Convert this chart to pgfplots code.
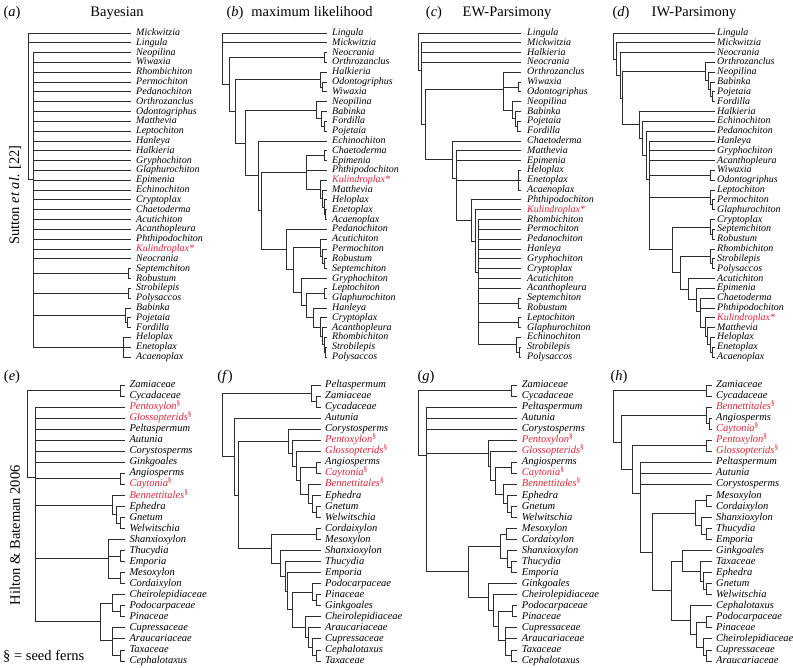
\documentclass[border=0pt]{standalone}
\usepackage{fontspec}
\setmainfont{Liberation Serif}
\usepackage{pgfplots}
\pgfplotsset{compat=1.18}
\definecolor{tred}{RGB}{226,35,52}
\definecolor{brc}{RGB}{45,45,45}
\tikzset{tax/.style={anchor=base west, inner sep=0pt, yshift=-2.5pt, font=\fontsize{10}{12}\selectfont\itshape},
 ttl/.style={anchor=base, inner sep=0pt, font=\fontsize{14.5}{16}\selectfont}}
\pgfplotsset{br/.style={brc, line width=0.9pt, mark=none, line join=miter}}
\newcommand{\tx}[3]{\node[tax] at (axis cs:#1,#2) {#3};}
\newcommand{\rd}[1]{\textcolor{tred}{#1}}
\newcommand{\sfr}[1]{\textcolor{tred}{#1\textsuperscript{\upshape\S}}}
\begin{document}
\begin{tikzpicture}
\useasboundingbox (0,0) rectangle (793pt,-668pt);
% ================= TOP ROW =================
\begin{axis}[at={(0pt,0pt)}, anchor=north west, scale only axis, width=793pt, height=365pt,
 xmin=0, xmax=793, ymin=-2.3605, ymax=34.808, y dir=reverse, hide axis, clip=false, unbounded coords=jump]
% ---- titles
\node[ttl] at (axis cs:12,-0.68) {(\textit{a})};
\node[ttl] at (axis cs:117,-0.68) {Bayesian};
\node[ttl] at (axis cs:235,-0.68) {(\textit{b})};
\node[ttl] at (axis cs:312,-0.68) {maximum likelihood};
\node[ttl] at (axis cs:434,-0.68) {(\textit{c})};
\node[ttl] at (axis cs:507,-0.68) {EW-Parsimony};
\node[ttl] at (axis cs:621,-0.68) {(\textit{d})};
\node[ttl] at (axis cs:694,-0.68) {IW-Parsimony};
\node[rotate=90, inner sep=0pt, font=\fontsize{14.5}{16}\selectfont] at (axis cs:15,17.5) {Sutton \textit{et al.} [22]};
% ---- panel a
\addplot[br] coordinates {(131,1)(28,1)(28,15.875)(33,15.875) (nan,nan)(28,2)(131,2)};
\addplot[br] coordinates {(131,3)(33,3)(33,33)(123,33)
 (nan,nan)(33,4)(131,4) (nan,nan)(33,5)(131,5) (nan,nan)(33,6)(131,6) (nan,nan)(33,7)(131,7)
 (nan,nan)(33,8)(131,8) (nan,nan)(33,9)(131,9) (nan,nan)(33,10)(131,10) (nan,nan)(33,11)(131,11)
 (nan,nan)(33,12)(131,12) (nan,nan)(33,13)(131,13) (nan,nan)(33,14)(131,14) (nan,nan)(33,15)(131,15)
 (nan,nan)(33,16)(131,16) (nan,nan)(33,17)(131,17) (nan,nan)(33,18)(131,18) (nan,nan)(33,19)(131,19)
 (nan,nan)(33,20)(131,20) (nan,nan)(33,21)(131,21) (nan,nan)(33,22)(131,22) (nan,nan)(33,23)(131,23)
 (nan,nan)(33,24)(131,24) (nan,nan)(33,25.5)(128,25.5) (nan,nan)(33,27.5)(128,27.5) (nan,nan)(33,29.75)(125,29.75)};
\addplot[br] coordinates {(131,25)(128,25)(128,26)(131,26)};
\addplot[br] coordinates {(131,27)(128,27)(128,28)(131,28)};
\addplot[br] coordinates {(131,29)(125,29)(125,30.5)(127.5,30.5)};
\addplot[br] coordinates {(131,30)(127.5,30)(127.5,31)(131,31)};
\addplot[br] coordinates {(131,32)(123,32)(123,34)(131,34) (nan,nan)(123,33)(131,33)};
\tx{136}{1}{Mickwitzia}\tx{136}{2}{Lingula}\tx{136}{3}{Neopilina}\tx{136}{4}{Wiwaxia}
\tx{136}{5}{Rhombichiton}\tx{136}{6}{Permochiton}\tx{136}{7}{Pedanochiton}\tx{136}{8}{Orthrozanclus}
\tx{136}{9}{Odontogriphus}\tx{136}{10}{Matthevia}\tx{136}{11}{Leptochiton}\tx{136}{12}{Hanleya}
\tx{136}{13}{Halkieria}\tx{136}{14}{Gryphochiton}\tx{136}{15}{Glaphurochiton}\tx{136}{16}{Epimenia}
\tx{136}{17}{Echinochiton}\tx{136}{18}{Cryptoplax}\tx{136}{19}{Chaetoderma}\tx{136}{20}{Acutichiton}
\tx{136}{21}{Acanthopleura}\tx{136}{22}{Phthipodochiton}\tx{136}{23}{\rd{Kulindroplax*}}\tx{136}{24}{Neocrania}
\tx{136}{25}{Septemchiton}\tx{136}{26}{Robustum}\tx{136}{27}{Strobilepis}\tx{136}{28}{Polysaccos}
\tx{136}{29}{Babinka}\tx{136}{30}{Pojetaia}\tx{136}{31}{Fordilla}\tx{136}{32}{Heloplax}
\tx{136}{33}{Enetoplax}\tx{136}{34}{Acaenoplax}
% ---- panel b
\addplot[br] coordinates {(327,1)(222.7,1)(222.7,6.24)(229.3,6.24) (nan,nan)(222.7,2)(327,2)};
\addplot[br] coordinates {(324,3.5)(229.3,3.5)(229.3,8.98)(235,8.98)};
\addplot[br] coordinates {(327,3)(324,3)(324,4)(327,4)};
\addplot[br] coordinates {(320,5.75)(235,5.75)(235,12.2)(245,12.2)};
\addplot[br] coordinates {(327,5)(320,5)(320,6.5)(322.7,6.5)};
\addplot[br] coordinates {(327,6)(322.7,6)(322.7,7)(327,7)};
\addplot[br] coordinates {(316.7,8.875)(245,8.875)(245,15.55)(258.3,15.55)};
\addplot[br] coordinates {(327,8)(316.7,8)(316.7,9.75)(321.7,9.75)};
\addplot[br] coordinates {(327,9)(321.7,9)(321.7,10.5)(324,10.5)};
\addplot[br] coordinates {(327,10)(324,10)(324,11)(327,11)};
\addplot[br] coordinates {(327,12)(258.3,12)(258.3,19.1)(261,19.1)};
\addplot[br] coordinates {(306,15.15)(261,15.15)(261,23.06)(286,23.06)};
\addplot[br] coordinates {(324,13.5)(306,13.5)(306,16.94)(320.7,16.94) (nan,nan)(306,15)(327,15)};
\addplot[br] coordinates {(327,13)(324,13)(324,14)(327,14)};
\addplot[br] coordinates {(327,16)(320.7,16)(320.7,17.875)(322.7,17.875)};
\addplot[br] coordinates {(327,17)(322.7,17)(322.7,18.75)(324,18.75)};
\addplot[br] coordinates {(327,18)(324,18)(324,19.5)(325.5,19.5)};
\addplot[br] coordinates {(327,19)(325.5,19)(325.5,20)(327,20)};
\addplot[br] coordinates {(327,21)(286,21)(286,25.12)(293,25.12)};
\addplot[br] coordinates {(320.7,22.875)(293,22.875)(293,27.37)(301,27.37)};
\addplot[br] coordinates {(327,22)(320.7,22)(320.7,23.75)(322.7,23.75)};
\addplot[br] coordinates {(327,23)(322.7,23)(322.7,24.5)(324.7,24.5)};
\addplot[br] coordinates {(327,24)(324.7,24)(324.7,25)(327,25)};
\addplot[br] coordinates {(327,26)(301,26)(301,28.73)(306.7,28.73)};
\addplot[br] coordinates {(324,27.5)(306.7,27.5)(306.7,29.97)(313,29.97)};
\addplot[br] coordinates {(327,27)(324,27)(324,28)(327,28)};
\addplot[br] coordinates {(327,29)(313,29)(313,30.94)(320.7,30.94)};
\addplot[br] coordinates {(327,30)(320.7,30)(320.7,31.875)(322.7,31.875)};
\addplot[br] coordinates {(327,31)(322.7,31)(322.7,32.75)(324,32.75)};
\addplot[br] coordinates {(327,32)(324,32)(324,33.5)(325.5,33.5)};
\addplot[br] coordinates {(327,33)(325.5,33)(325.5,34)(327,34)};
\tx{332}{1}{Lingula}\tx{332}{2}{Mickwitzia}\tx{332}{3}{Neocrania}\tx{332}{4}{Orthrozanclus}
\tx{332}{5}{Halkieria}\tx{332}{6}{Odontogriphus}\tx{332}{7}{Wiwaxia}\tx{332}{8}{Neopilina}
\tx{332}{9}{Babinka}\tx{332}{10}{Fordilla}\tx{332}{11}{Pojetaia}\tx{332}{12}{Echinochiton}
\tx{332}{13}{Chaetoderma}\tx{332}{14}{Epimenia}\tx{332}{15}{Phthipodochiton}\tx{332}{16}{\rd{Kulindroplax*}}
\tx{332}{17}{Matthevia}\tx{332}{18}{Heloplax}\tx{332}{19}{Enetoplax}\tx{332}{20}{Acaenoplax}
\tx{332}{21}{Pedanochiton}\tx{332}{22}{Acutichiton}\tx{332}{23}{Permochiton}\tx{332}{24}{Robustum}
\tx{332}{25}{Septemchiton}\tx{332}{26}{Gryphochiton}\tx{332}{27}{Leptochiton}\tx{332}{28}{Glaphurochiton}
\tx{332}{29}{Hanleya}\tx{332}{30}{Cryptoplax}\tx{332}{31}{Acanthopleura}\tx{332}{32}{Rhombichiton}
\tx{332}{33}{Strobilepis}\tx{332}{34}{Polysaccos}
% ---- panel c
\addplot[br] coordinates {(521,1)(418.3,1)(418.3,4.835)(421.7,4.835)};
\addplot[br] coordinates {(521,2)(421.7,2)(421.7,10.34)(425,10.34) (nan,nan)(421.7,3)(521,3) (nan,nan)(421.7,4)(521,4)};
\addplot[br] coordinates {(503.3,6.79)(425,6.79)(425,13.89)(452.7,13.89)};
\addplot[br] coordinates {(521,5)(503.3,5)(503.3,8.875)(512.7,8.875) (nan,nan)(503.3,6.5)(518.3,6.5)};
\addplot[br] coordinates {(521,6)(518.3,6)(518.3,7)(521,7)};
\addplot[br] coordinates {(521,8)(512.7,8)(512.7,9.75)(515,9.75)};
\addplot[br] coordinates {(521,9)(515,9)(515,10.5)(517.3,10.5)};
\addplot[br] coordinates {(521,10)(517.3,10)(517.3,11)(521,11)};
\addplot[br] coordinates {(521,12)(452.7,12)(452.7,15.78)(456.7,15.78)};
\addplot[br] coordinates {(521,13)(456.7,13)(456.7,20.1)(471.7,20.1) (nan,nan)(456.7,14)(521,14) (nan,nan)(456.7,16)(518.3,16)};
\addplot[br] coordinates {(521,15)(518.3,15)(518.3,17)(521,17) (nan,nan)(518.3,16)(521,16)};
\addplot[br] coordinates {(521,18)(471.7,18)(471.7,22.2)(475,22.2)};
\addplot[br] coordinates {(521,19)(475,19)(475,25.43)(478.3,25.43)};
\addplot[br] coordinates {(521,20)(478.3,20)(478.3,32.75)(516.7,32.75)
 (nan,nan)(478.3,21)(521,21) (nan,nan)(478.3,22)(521,22) (nan,nan)(478.3,23)(521,23) (nan,nan)(478.3,24)(521,24)
 (nan,nan)(478.3,25)(521,25) (nan,nan)(478.3,26)(521,26) (nan,nan)(478.3,27)(521,27)
 (nan,nan)(478.3,28.5)(518.3,28.5) (nan,nan)(478.3,30.5)(518.3,30.5)};
\addplot[br] coordinates {(521,28)(518.3,28)(518.3,29)(521,29)};
\addplot[br] coordinates {(521,30)(518.3,30)(518.3,31)(521,31)};
\addplot[br] coordinates {(521,32)(516.7,32)(516.7,33.5)(519,33.5)};
\addplot[br] coordinates {(521,33)(519,33)(519,34)(521,34)};
\tx{527}{1}{Lingula}\tx{527}{2}{Mickwitzia}\tx{527}{3}{Halkieria}\tx{527}{4}{Neocrania}
\tx{527}{5}{Orthrozanclus}\tx{527}{6}{Wiwaxia}\tx{527}{7}{Odontogriphus}\tx{527}{8}{Neopilina}
\tx{527}{9}{Babinka}\tx{527}{10}{Pojetaia}\tx{527}{11}{Fordilla}\tx{527}{12}{Chaetoderma}
\tx{527}{13}{Matthevia}\tx{527}{14}{Epimenia}\tx{527}{15}{Heloplax}\tx{527}{16}{Enetoplax}
\tx{527}{17}{Acaenoplax}\tx{527}{18}{Phthipodochiton}\tx{527}{19}{\rd{Kulindroplax*}}\tx{527}{20}{Rhombichiton}
\tx{527}{21}{Permochiton}\tx{527}{22}{Pedanochiton}\tx{527}{23}{Hanleya}\tx{527}{24}{Gryphochiton}
\tx{527}{25}{Cryptoplax}\tx{527}{26}{Acutichiton}\tx{527}{27}{Acanthopleura}\tx{527}{28}{Septemchiton}
\tx{527}{29}{Robustum}\tx{527}{30}{Leptochiton}\tx{527}{31}{Glaphurochiton}\tx{527}{32}{Echinochiton}
\tx{527}{33}{Strobilepis}\tx{527}{34}{Polysaccos}
% ---- panel d
\addplot[br] coordinates {(714.5,1)(613.3,1)(613.3,3.66)(616.7,3.66)};
\addplot[br] coordinates {(714.5,2)(616.7,2)(616.7,5.32)(620,5.32)};
\addplot[br] coordinates {(714.5,3)(620,3)(620,7.65)(622.7,7.65)};
\addplot[br] coordinates {(705,4.94)(622.7,4.94)(622.7,10.36)(639.3,10.36)};
\addplot[br] coordinates {(714.5,4)(705,4)(705,5.875)(708.3,5.875)};
\addplot[br] coordinates {(714.5,5)(708.3,5)(708.3,6.75)(710.7,6.75)};
\addplot[br] coordinates {(714.5,6)(710.7,6)(710.7,7.5)(712.7,7.5)};
\addplot[br] coordinates {(714.5,7)(712.7,7)(712.7,8)(714.5,8)};
\addplot[br] coordinates {(714.5,9)(639.3,9)(639.3,11.72)(642.7,11.72)};
\addplot[br] coordinates {(714.5,10)(642.7,10)(642.7,13.44)(646,13.44)};
\addplot[br] coordinates {(714.5,11)(646,11)(646,15.89)(649.3,15.89)};
\addplot[br] coordinates {(714.5,12)(649.3,12)(649.3,23.08)(672.7,23.08) (nan,nan)(649.3,13)(714.5,13) (nan,nan)(649.3,14)(714.5,14) (nan,nan)(649.3,15.5)(710,15.5) (nan,nan)(649.3,17.75)(710,17.75)};
\addplot[br] coordinates {(714.5,15)(710,15)(710,16)(714.5,16)};
\addplot[br] coordinates {(714.5,17)(710,17)(710,18.5)(712.3,18.5)};
\addplot[br] coordinates {(714.5,18)(712.3,18)(712.3,19)(714.5,19)};
\addplot[br] coordinates {(710,20.75)(672.7,20.75)(672.7,25.41)(680,25.41)};
\addplot[br] coordinates {(714.5,20)(710,20)(710,21.5)(712.3,21.5)};
\addplot[br] coordinates {(714.5,21)(712.3,21)(712.3,22)(714.5,22)};
\addplot[br] coordinates {(710,23.75)(680,23.75)(680,27.08)(688.3,27.08)};
\addplot[br] coordinates {(714.5,23)(710,23)(710,24.5)(712.3,24.5)};
\addplot[br] coordinates {(714.5,24)(712.3,24)(712.3,25)(714.5,25)};
\addplot[br] coordinates {(714.5,26)(688.3,26)(688.3,28.16)(696.7,28.16)};
\addplot[br] coordinates {(714.5,27)(696.7,27)(696.7,29.31)(700,29.31)};
\addplot[br] coordinates {(714.5,28)(700,28)(700,30.94)(705,30.94) (nan,nan)(700,29)(714.5,29)};
\addplot[br] coordinates {(714.5,30)(705,30)(705,31.875)(707.3,31.875)};
\addplot[br] coordinates {(714.5,31)(707.3,31)(707.3,32.75)(710,32.75)};
\addplot[br] coordinates {(714.5,32)(710,32)(710,33.5)(712.3,33.5)};
\addplot[br] coordinates {(714.5,33)(712.3,33)(712.3,34)(714.5,34)};
\tx{717}{1}{Lingula}\tx{717}{2}{Mickwitzia}\tx{717}{3}{Neocrania}\tx{717}{4}{Orthrozanclus}
\tx{717}{5}{Neopilina}\tx{717}{6}{Babinka}\tx{717}{7}{Pojetaia}\tx{717}{8}{Fordilla}
\tx{717}{9}{Halkieria}\tx{717}{10}{Echinochiton}\tx{717}{11}{Pedanochiton}\tx{717}{12}{Hanleya}
\tx{717}{13}{Gryphochiton}\tx{717}{14}{Acanthopleura}\tx{717}{15}{Wiwaxia}\tx{717}{16}{Odontogriphus}
\tx{717}{17}{Leptochiton}\tx{717}{18}{Permochiton}\tx{717}{19}{Glaphurochiton}\tx{717}{20}{Cryptoplax}
\tx{717}{21}{Septemchiton}\tx{717}{22}{Robustum}\tx{717}{23}{Rhombichiton}\tx{717}{24}{Strobilepis}
\tx{717}{25}{Polysaccos}\tx{717}{26}{Acutichiton}\tx{717}{27}{Epimenia}\tx{717}{28}{Chaetoderma}
\tx{717}{29}{Phthipodochiton}\tx{717}{30}{\rd{Kulindroplax*}}\tx{717}{31}{Matthevia}\tx{717}{32}{Heloplax}
\tx{717}{33}{Enetoplax}\tx{717}{34}{Acaenoplax}
\end{axis}
\tikzset{tax/.style={anchor=base west, inner sep=0pt, yshift=-2.6pt, font=\fontsize{10.5}{12}\selectfont\itshape}}
% ================= BOTTOM ROW =================
\begin{axis}[at={(0pt,-365pt)}, anchor=north west, scale only axis, width=793pt, height=303pt,
 xmin=0, xmax=793, ymin=-0.8116, ymax=26.634, y dir=reverse, hide axis, clip=false, unbounded coords=jump]
\node[ttl] at (axis cs:12,0.547) {(\textit{e})};
\node[ttl] at (axis cs:225,0.547) {(\textit{f})};
\node[ttl] at (axis cs:426,0.547) {(\textit{g})};
\node[ttl] at (axis cs:619,0.547) {(\textit{h})};
\node[rotate=90, inner sep=0pt, font=\fontsize{14.5}{16}\selectfont] at (axis cs:15,14.6) {Hilton \& Bateman 2006};
\node[anchor=base west, inner sep=0pt, font=\fontsize{14.5}{16}\selectfont] at (axis cs:3,25.95) {\S\ = seed ferns};
% ---- panel e
\addplot[br] coordinates {(120.7,1.5)(27.3,1.5)(27.3,9.35)(35,9.35)};
\addplot[br] coordinates {(125,1)(120.7,1)(120.7,2)(125,2)};
\addplot[br] coordinates {(125,3)(35,3)(35,22.46)(100,22.46)
 (nan,nan)(35,4)(125,4) (nan,nan)(35,5)(125,5) (nan,nan)(35,6)(125,6) (nan,nan)(35,7)(125,7) (nan,nan)(35,8)(125,8)
 (nan,nan)(35,9.5)(120.7,9.5) (nan,nan)(35,11.875)(112.7,11.875) (nan,nan)(35,16.67)(108.3,16.67)};
\addplot[br] coordinates {(125,9)(120.7,9)(120.7,10)(125,10)};
\addplot[br] coordinates {(125,11)(112.7,11)(112.7,12.75)(116.7,12.75)};
\addplot[br] coordinates {(125,12)(116.7,12)(116.7,13.5)(120.7,13.5)};
\addplot[br] coordinates {(125,13)(120.7,13)(120.7,14)(125,14)};
\addplot[br] coordinates {(125,15)(108.3,15)(108.3,18.5)(120.7,18.5) (nan,nan)(108.3,16.5)(120.7,16.5)};
\addplot[br] coordinates {(125,16)(120.7,16)(120.7,17)(125,17)};
\addplot[br] coordinates {(125,18)(120.7,18)(120.7,19)(125,19)};
\addplot[br] coordinates {(112.7,20.75)(100,20.75)(100,24.17)(112.7,24.17)};
\addplot[br] coordinates {(125,20)(112.7,20)(112.7,21.5)(120.7,21.5)};
\addplot[br] coordinates {(125,21)(120.7,21)(120.7,22)(125,22)};
\addplot[br] coordinates {(125,23)(112.7,23)(112.7,25.5)(120.7,25.5) (nan,nan)(112.7,24)(125,24)};
\addplot[br] coordinates {(125,25)(120.7,25)(120.7,26)(125,26)};
\tx{129.3}{1}{Zamiaceae}\tx{129.3}{2}{Cycadaceae}\tx{129.3}{3}{\sfr{Pentoxylon}}\tx{129.3}{4}{\sfr{Glossopterids}}
\tx{129.3}{5}{Peltaspermum}\tx{129.3}{6}{Autunia}\tx{129.3}{7}{Corystosperms}\tx{129.3}{8}{Ginkgoales}
\tx{129.3}{9}{Angiosperms}\tx{129.3}{10}{\sfr{Caytonia}}\tx{129.3}{11}{\sfr{Bennettitales}}\tx{129.3}{12}{Ephedra}
\tx{129.3}{13}{Gnetum}\tx{129.3}{14}{Welwitschia}\tx{129.3}{15}{Shanxioxylon}\tx{129.3}{16}{Thucydia}
\tx{129.3}{17}{Emporia}\tx{129.3}{18}{Mesoxylon}\tx{129.3}{19}{Cordaixylon}\tx{129.3}{20}{Cheirolepidiaceae}
\tx{129.3}{21}{Podocarpaceae}\tx{129.3}{22}{Pinaceae}\tx{129.3}{23}{Cupressaceae}\tx{129.3}{24}{Araucariaceae}
\tx{129.3}{25}{Taxaceae}\tx{129.3}{26}{Cephalotaxus}
% ---- panel f
\addplot[br] coordinates {(311.7,1.75)(222.7,1.75)(222.7,7.48)(234,7.48)};
\addplot[br] coordinates {(321,1)(311.7,1)(311.7,2.5)(316,2.5)};
\addplot[br] coordinates {(321,2)(316,2)(316,3)(321,3)};
\addplot[br] coordinates {(321,4)(234,4)(234,10.96)(238.3,10.96)};
\addplot[br] coordinates {(288.3,6.09)(238.3,6.09)(238.3,15.83)(271.7,15.83)};
\addplot[br] coordinates {(321,5)(288.3,5)(288.3,7.17)(292.7,7.17)};
\addplot[br] coordinates {(321,6)(292.7,6)(292.7,8.34)(296.7,8.34)};
\addplot[br] coordinates {(321,7)(296.7,7)(296.7,9.69)(300,9.69)};
\addplot[br] coordinates {(316,8.5)(300,8.5)(300,10.875)(308.3,10.875)};
\addplot[br] coordinates {(321,8)(316,8)(316,9)(321,9)};
\addplot[br] coordinates {(321,10)(308.3,10)(308.3,11.75)(312.7,11.75)};
\addplot[br] coordinates {(321,11)(312.7,11)(312.7,12.5)(316.7,12.5)};
\addplot[br] coordinates {(321,12)(316.7,12)(316.7,13)(321,13)};
\addplot[br] coordinates {(316.7,14.5)(271.7,14.5)(271.7,17.17)(280,17.17)};
\addplot[br] coordinates {(321,14)(316.7,14)(316.7,15)(321,15)};
\addplot[br] coordinates {(321,16)(280,16)(280,18.34)(285,18.34)};
\addplot[br] coordinates {(321,17)(285,17)(285,19.67)(287.3,19.67)};
\addplot[br] coordinates {(321,18)(287.3,18)(287.3,21.34)(292.7,21.34)};
\addplot[br] coordinates {(312.7,19.75)(292.7,19.75)(292.7,22.94)(305,22.94)};
\addplot[br] coordinates {(321,19)(312.7,19)(312.7,20.5)(316.7,20.5)};
\addplot[br] coordinates {(321,20)(316.7,20)(316.7,21)(321,21)};
\addplot[br] coordinates {(321,22)(305,22)(305,23.875)(308.3,23.875)};
\addplot[br] coordinates {(321,23)(308.3,23)(308.3,24.75)(312.7,24.75)};
\addplot[br] coordinates {(321,24)(312.7,24)(312.7,25.5)(316.7,25.5)};
\addplot[br] coordinates {(321,25)(316.7,25)(316.7,26)(321,26)};
\tx{325}{1}{Peltaspermum}\tx{325}{2}{Zamiaceae}\tx{325}{3}{Cycadaceae}\tx{325}{4}{Autunia}
\tx{325}{5}{Corystosperms}\tx{325}{6}{\sfr{Pentoxylon}}\tx{325}{7}{\sfr{Glossopterids}}\tx{325}{8}{Angiosperms}
\tx{325}{9}{\sfr{Caytonia}}\tx{325}{10}{\sfr{Bennettitales}}\tx{325}{11}{Ephedra}\tx{325}{12}{Gnetum}
\tx{325}{13}{Welwitschia}\tx{325}{14}{Cordaixylon}\tx{325}{15}{Mesoxylon}\tx{325}{16}{Shanxioxylon}
\tx{325}{17}{Thucydia}\tx{325}{18}{Emporia}\tx{325}{19}{Podocarpaceae}\tx{325}{20}{Pinaceae}
\tx{325}{21}{Ginkgoales}\tx{325}{22}{Cheirolepidiaceae}\tx{325}{23}{Araucariaceae}\tx{325}{24}{Cupressaceae}
\tx{325}{25}{Cephalotaxus}\tx{325}{26}{Taxaceae}
% ---- panel g
\addplot[br] coordinates {(511.7,1.5)(418.3,1.5)(418.3,7.42)(426,7.42)};
\addplot[br] coordinates {(516.5,1)(511.7,1)(511.7,2)(516.5,2)};
\addplot[br] coordinates {(516.5,3)(426,3)(426,17.92)(468.3,17.92) (nan,nan)(426,4)(516.5,4) (nan,nan)(426,5)(516.5,5) (nan,nan)(426,7.17)(488.3,7.17)};
\addplot[br] coordinates {(516.5,6)(488.3,6)(488.3,8.34)(490.7,8.34)};
\addplot[br] coordinates {(516.5,7)(490.7,7)(490.7,9.69)(495,9.69)};
\addplot[br] coordinates {(511.7,8.5)(495,8.5)(495,10.875)(503.3,10.875)};
\addplot[br] coordinates {(516.5,8)(511.7,8)(511.7,9)(516.5,9)};
\addplot[br] coordinates {(516.5,10)(503.3,10)(503.3,11.75)(507.3,11.75)};
\addplot[br] coordinates {(516.5,11)(507.3,11)(507.3,12.5)(511.7,12.5)};
\addplot[br] coordinates {(516.5,12)(511.7,12)(511.7,13)(516.5,13)};
\addplot[br] coordinates {(500,15.625)(468.3,15.625)(468.3,20.21)(488.3,20.21)};
\addplot[br] coordinates {(506.7,14.5)(500,14.5)(500,16.75)(507.3,16.75)};
\addplot[br] coordinates {(516.5,14)(506.7,14)(506.7,15)(516.5,15)};
\addplot[br] coordinates {(516.5,16)(507.3,16)(507.3,17.5)(511.7,17.5)};
\addplot[br] coordinates {(516.5,17)(511.7,17)(511.7,18)(516.5,18)};
\addplot[br] coordinates {(516.5,19)(488.3,19)(488.3,21.42)(493.3,21.42)};
\addplot[br] coordinates {(516.5,20)(493.3,20)(493.3,22.83)(498.3,22.83)};
\addplot[br] coordinates {(512.7,21.5)(498.3,21.5)(498.3,24.17)(505,24.17)};
\addplot[br] coordinates {(516.5,21)(512.7,21)(512.7,22)(516.5,22)};
\addplot[br] coordinates {(516.5,23)(505,23)(505,25.5)(511.7,25.5) (nan,nan)(505,24)(516.5,24)};
\addplot[br] coordinates {(516.5,25)(511.7,25)(511.7,26)(516.5,26)};
\tx{521.7}{1}{Zamiaceae}\tx{521.7}{2}{Cycadaceae}\tx{521.7}{3}{Peltaspermum}\tx{521.7}{4}{Autunia}
\tx{521.7}{5}{Corystosperms}\tx{521.7}{6}{\sfr{Pentoxylon}}\tx{521.7}{7}{\sfr{Glossopterids}}\tx{521.7}{8}{Angiosperms}
\tx{521.7}{9}{\sfr{Caytonia}}\tx{521.7}{10}{\sfr{Bennettitales}}\tx{521.7}{11}{Ephedra}\tx{521.7}{12}{Gnetum}
\tx{521.7}{13}{Welwitschia}\tx{521.7}{14}{Mesoxylon}\tx{521.7}{15}{Cordaixylon}\tx{521.7}{16}{Shanxioxylon}
\tx{521.7}{17}{Thucydia}\tx{521.7}{18}{Emporia}\tx{521.7}{19}{Ginkgoales}\tx{521.7}{20}{Cheirolepidiaceae}
\tx{521.7}{21}{Podocarpaceae}\tx{521.7}{22}{Pinaceae}\tx{521.7}{23}{Cupressaceae}\tx{521.7}{24}{Araucariaceae}
\tx{521.7}{25}{Taxaceae}\tx{521.7}{26}{Cephalotaxus}
% ---- panel h
\addplot[br] coordinates {(706.7,1.5)(613.3,1.5)(613.3,6.2)(621.7,6.2)};
\addplot[br] coordinates {(711.7,1)(706.7,1)(706.7,2)(711.7,2)};
\addplot[br] coordinates {(706,3.75)(621.7,3.75)(621.7,8.64)(632.7,8.64)};
\addplot[br] coordinates {(711.7,3)(706,3)(706,4.5)(709.3,4.5)};
\addplot[br] coordinates {(711.7,4)(709.3,4)(709.3,5)(711.7,5)};
\addplot[br] coordinates {(706.7,6.5)(632.7,6.5)(632.7,10.78)(640.7,10.78)};
\addplot[br] coordinates {(711.7,6)(706.7,6)(706.7,7)(711.7,7)};
\addplot[br] coordinates {(711.7,8)(640.7,8)(640.7,16.13)(652.7,16.13) (nan,nan)(640.7,9)(711.7,9) (nan,nan)(640.7,10)(711.7,10)};
\addplot[br] coordinates {(695,12.625)(652.7,12.625)(652.7,19.63)(671.7,19.63)};
\addplot[br] coordinates {(706.7,11.5)(695,11.5)(695,13.75)(701.7,13.75)};
\addplot[br] coordinates {(711.7,11)(706.7,11)(706.7,12)(711.7,12)};
\addplot[br] coordinates {(711.7,13)(701.7,13)(701.7,14.5)(706.7,14.5)};
\addplot[br] coordinates {(711.7,14)(706.7,14)(706.7,15)(711.7,15)};
\addplot[br] coordinates {(682.7,16.94)(671.7,16.94)(671.7,22.31)(690.7,22.31)};
\addplot[br] coordinates {(711.7,16)(682.7,16)(682.7,17.875)(700,17.875)};
\addplot[br] coordinates {(711.7,17)(700,17)(700,18.75)(703.3,18.75)};
\addplot[br] coordinates {(711.7,18)(703.3,18)(703.3,19.5)(706.7,19.5)};
\addplot[br] coordinates {(711.7,19)(706.7,19)(706.7,20)(711.7,20)};
\addplot[br] coordinates {(711.7,21)(690.7,21)(690.7,23.625)(696.7,23.625)};
\addplot[br] coordinates {(706.7,22.5)(696.7,22.5)(696.7,24.75)(703.3,24.75)};
\addplot[br] coordinates {(711.7,22)(706.7,22)(706.7,23)(711.7,23)};
\addplot[br] coordinates {(711.7,24)(703.3,24)(703.3,25.5)(706.7,25.5)};
\addplot[br] coordinates {(711.7,25)(706.7,25)(706.7,26)(711.7,26)};
\tx{716}{1}{Zamiaceae}\tx{716}{2}{Cycadaceae}\tx{716}{3}{\sfr{Bennettitales}}\tx{716}{4}{Angiosperms}
\tx{716}{5}{\sfr{Caytonia}}\tx{716}{6}{\sfr{Pentoxylon}}\tx{716}{7}{\sfr{Glossopterids}}\tx{716}{8}{Peltaspermum}
\tx{716}{9}{Autunia}\tx{716}{10}{Corystosperms}\tx{716}{11}{Mesoxylon}\tx{716}{12}{Cordaixylon}
\tx{716}{13}{Shanxioxylon}\tx{716}{14}{Thucydia}\tx{716}{15}{Emporia}\tx{716}{16}{Ginkgoales}
\tx{716}{17}{Taxaceae}\tx{716}{18}{Ephedra}\tx{716}{19}{Gnetum}\tx{716}{20}{Welwitschia}
\tx{716}{21}{Cephalotaxus}\tx{716}{22}{Podocarpaceae}\tx{716}{23}{Pinaceae}\tx{716}{24}{Cheirolepidiaceae}
\tx{716}{25}{Cupressaceae}\tx{716}{26}{Araucariaceae}
\end{axis}
\end{tikzpicture}
\end{document}
